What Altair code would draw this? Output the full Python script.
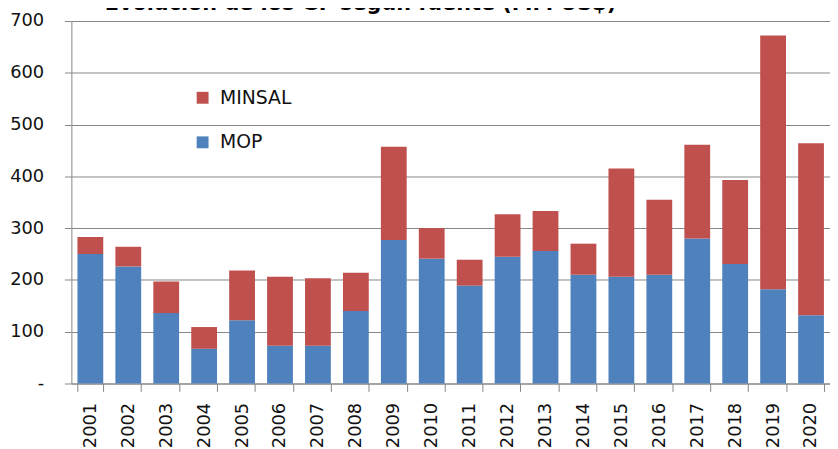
import altair as alt
import pandas as pd

years = [str(y) for y in range(2001, 2021)]
mop = [250, 226, 136, 67, 122, 73, 73, 140, 277, 241,
       189, 245, 256, 210, 206, 210, 280, 231, 182, 132]
total = [283, 264, 197, 109, 218, 206, 203, 214, 457, 300,
         239, 327, 333, 270, 415, 355, 461, 393, 672, 464]
minsal = [t - m for t, m in zip(total, mop)]
series = ["MINSAL", "MOP"]
colors = ["#C0504D", "#4F81BD"]
y_ticks = [0, 100, 200, 300, 400, 500, 600, 700]
title_text = "Evolución de los GF según fuente (MM US$)"

rows = []
for y, m, s in zip(years, mop, minsal):
    rows.append({"year": y, "fuente": "MOP", "valor": m, "ord": 0})
    rows.append({"year": y, "fuente": "MINSAL", "valor": s, "ord": 1})
df = pd.DataFrame(rows)

FONT = "DejaVu Sans"

chart = alt.Chart(df).mark_bar().encode(
    x=alt.X("year:N", sort=years, title=None,
            scale=alt.Scale(paddingInner=0.32, paddingOuter=0.16),
            axis=alt.Axis(labelAngle=-90, labelFontSize=18, labelFont=FONT,
                          labelColor="#111", tickBand="extent", tickSize=8,
                          tickColor="#868686", domainColor="#868686",
                          labelPadding=11, labelBaseline="middle", labelAlign="right")),
    y=alt.Y("valor:Q", stack="zero", title=None,
            scale=alt.Scale(domain=[0, 700], nice=False),
            axis=alt.Axis(values=y_ticks, labelFontSize=18, labelFont=FONT,
                          labelColor="#111", tickSize=7, tickColor="#868686",
                          domainColor="#868686", gridColor="#868686",
                          gridWidth=1, labelPadding=21,
                          labelExpr="datum.value == 0 ? '-\u00a0\u00a0\u00a0' : datum.label")),
    color=alt.Color("fuente:N", scale=alt.Scale(domain=series, range=colors),
                    legend=alt.Legend(title=None, orient="none", legendX=123, legendY=68,
                                      symbolType="square", symbolSize=144,
                                      symbolStrokeWidth=0, labelFontSize=19,
                                      labelFont=FONT, labelColor="#111",
                                      labelOffset=8, rowPadding=25, padding=0)),
    order=alt.Order("ord:Q", sort="ascending"),
).properties(
    width=766, height=366,
    title=alt.TitleParams(title_text, fontSize=21, font=FONT, fontWeight="bold",
                          anchor="start", dx=96, dy=2, offset=0, color="#000"),
    autosize=alt.AutoSizeParams(type="none"),
    padding={"left": 64, "top": 11, "right": 0, "bottom": 64},
).configure_view(stroke=None).configure_axis(grid=True).configure_axisX(grid=False)

chart.save("out.html", embed_options={"renderer": "svg", "actions": False})
